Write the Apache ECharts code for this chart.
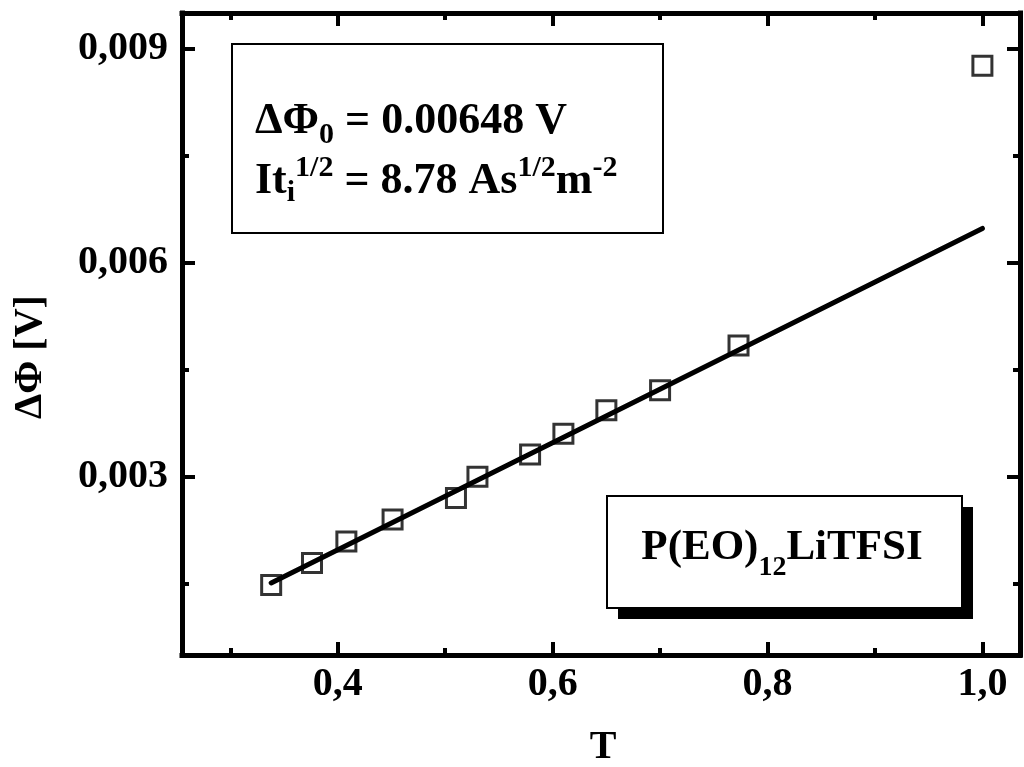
<!DOCTYPE html>
<html>
<head>
<meta charset="utf-8">
<script src="https://cdn.jsdelivr.net/npm/echarts@6/dist/echarts.min.js"></script>
<style>
  html, body { margin: 0; padding: 0; background: #fff; }
  #main { width: 1024px; height: 767px; }
</style>
</head>
<body>
<div id="main"></div>
<script>
// measured points, T vs delta phi
var tVals = [0.338, 0.376, 0.408, 0.451, 0.510, 0.530, 0.579, 0.610, 0.650, 0.700, 0.773, 1.000];
var dPhi = [0.00148, 0.00179, 0.00209, 0.00240, 0.00270, 0.00300, 0.00331, 0.00360, 0.00393, 0.00421, 0.00484, 0.00876];

// linear fit
var fitT = [0.338, 1.0];
var fitPhi = [0.00151, 0.00648];

// ticks
var xMajor = [0.4, 0.6, 0.8, 1.0];
var xMinor = [0.3, 0.5, 0.7, 0.9];
var yMajor = [0.003, 0.006, 0.009];
var yMinor = [0.0015, 0.0045, 0.0075];

var FONT = "Liberation Serif";
var xRange = [0.255, 1.035];
var yRange = [0.0005, 0.0095];

function pairs(a, b) {
  return a.map(function (v, i) { return [v, b[i]]; });
}

function xAx(pos, ticks, len, showLine, showLabel) {
  return {
    type: "value", position: pos, min: xRange[0], max: xRange[1],
    axisLine: { show: showLine, onZero: false, lineStyle: { color: "#000", width: 5, cap: "square" } },
    axisTick: { show: true, inside: true, length: len, customValues: ticks, lineStyle: { color: "#000", width: 4 } },
    axisLabel: {
      show: showLabel, customValues: ticks, margin: 10,
      fontFamily: FONT, fontWeight: "bold", fontSize: 40, color: "#000",
      formatter: function (v) { return v.toFixed(1).replace(".", ","); }
    },
    splitLine: { show: false }
  };
}

function yAx(pos, ticks, len, showLine, showLabel) {
  return {
    type: "value", position: pos, min: yRange[0], max: yRange[1],
    axisLine: { show: showLine, onZero: false, lineStyle: { color: "#000", width: 5, cap: "square" } },
    axisTick: { show: true, inside: true, length: len, customValues: ticks, lineStyle: { color: "#000", width: 4 } },
    axisLabel: {
      show: showLabel, customValues: ticks, margin: 14,
      fontFamily: FONT, fontWeight: "bold", fontSize: 40, color: "#000",
      formatter: function (v) { return v.toFixed(3).replace(".", ","); }
    },
    splitLine: { show: false }
  };
}

var base = { fontFamily: FONT, fontWeight: "bold", fill: "#000", verticalAlign: "middle" };
function rs(size, pad) {
  var o = Object.assign({}, base, { fontSize: size });
  if (pad) o.padding = pad;
  return o;
}

var myChart = echarts.init(document.getElementById("main"));
myChart.setOption({
  animation: false,
  backgroundColor: "#fff",
  grid: { left: 182, right: 4, top: 13, bottom: 112, containLabel: false },
  xAxis: [
    xAx("bottom", xMajor, 13, true, true),
    xAx("bottom", xMinor, 7, false, false),
    xAx("top", xMajor, 13, true, false),
    xAx("top", xMinor, 7, false, false)
  ],
  yAxis: [
    yAx("left", yMajor, 13, true, true),
    yAx("left", yMinor, 7, false, false),
    yAx("right", yMajor, 13, true, false),
    yAx("right", yMinor, 7, false, false)
  ],
  series: [
    {
      type: "scatter",
      symbol: "rect",
      symbolSize: 19,
      z: 2,
      itemStyle: { color: "#fff", borderColor: "#000", borderWidth: 3 },
      data: pairs(tVals, dPhi)
    },
    {
      type: "line",
      showSymbol: false,
      symbol: "none",
      z: 3,
      lineStyle: { color: "#000", width: 5, cap: "round" },
      data: pairs(fitT, fitPhi)
    }
  ],
  graphic: [
    // parameter box
    { type: "rect", z: 10, shape: { x: 232, y: 44, width: 431, height: 189 },
      style: { fill: "#fff", stroke: "#000", lineWidth: 2 } },
    { type: "text", z: 11, x: 255, y: 122,
      style: {
        text: "{m|ΔΦ}{sub|0}{m| = 0.00648 V}",
        align: "left", verticalAlign: "middle",
        rich: { m: rs(44), sub: rs(30, [26, 0, 0, 0]) }
      } },
    { type: "text", z: 11, x: 255, y: 182,
      style: {
        text: "{m|It}{sub|i}{sup|1/2}{m| = 8.78 As}{sup|1/2}{m|m}{sup|-2}",
        align: "left", verticalAlign: "middle",
        rich: { m: rs(44), sub: rs(30, [22, 0, 0, 0]), sup: rs(30, [0, 0, 28, 0]) }
      } },
    // sample box with shadow
    { type: "rect", z: 10, shape: { x: 618, y: 507, width: 355, height: 112 },
      style: { fill: "#000" } },
    { type: "rect", z: 11, shape: { x: 607, y: 496, width: 355, height: 112 },
      style: { fill: "#fff", stroke: "#000", lineWidth: 2 } },
    { type: "text", z: 12, x: 782, y: 548,
      style: {
        text: "{m|P(EO)}{sub|12}{m|LiTFSI}",
        align: "center", verticalAlign: "middle",
        rich: { m: rs(43), sub: rs(28, [39, 0, 0, 0]) }
      } },
    // axis titles
    { type: "text", z: 11, x: 603, y: 748,
      style: { text: "T", fontFamily: FONT, fontWeight: "bold", fontSize: 40, fill: "#000",
               align: "center", verticalAlign: "middle" } },
    { type: "text", z: 11, x: 31, y: 357, rotation: Math.PI / 2,
      style: { text: "ΔΦ [V]", fontFamily: FONT, fontWeight: "bold", fontSize: 40, fill: "#000",
               align: "center", verticalAlign: "middle" } }
  ]
});
</script>
</body>
</html>
